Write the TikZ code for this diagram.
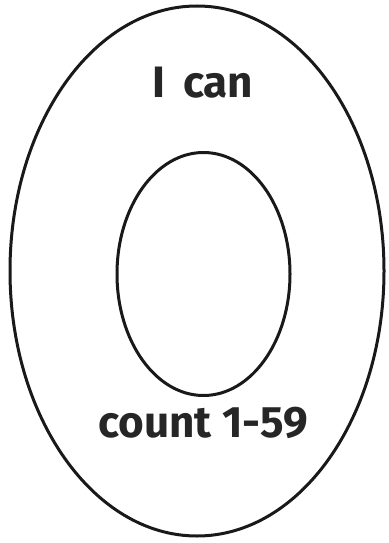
\documentclass[tikz,border=0pt]{standalone}
\usepackage{fontspec}
\setmainfont{Fira Sans}
\begin{document}
\begin{tikzpicture}[x=1pt,y=-1pt,
  ring/.style={draw=black!90,line width=3pt},
  lbl/.style={font=\fontsize{44}{44}\selectfont\bfseries, inner sep=0pt, text=black!85}]
\useasboundingbox (0,0) rectangle (388,543);
\draw[ring] (197,271) ellipse [x radius=187, y radius=265];
\draw[ring] (203.5,274) ellipse [x radius=86.5, y radius=121.5];
\node[lbl] (top) at (203,83) {I\hspace{0.4em}can};
\node[lbl] (bottom) at (203,423) {count 1-59};
\end{tikzpicture}
\end{document}
